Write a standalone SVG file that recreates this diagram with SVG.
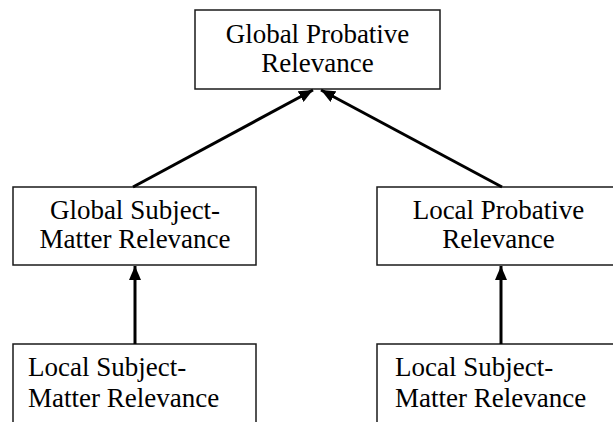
<svg xmlns="http://www.w3.org/2000/svg" width="613" height="422" viewBox="0 0 613 422">
<style>
.box{fill:#fff;stroke:#1a1a1a;stroke-width:1.5}
.t{font-family:"Liberation Serif","Times New Roman",serif;font-size:27px;fill:#000}
.c{text-anchor:middle}
.edge{stroke:#000;stroke-width:3;fill:none}
</style>
<defs>
<marker id="ah" markerUnits="userSpaceOnUse" markerWidth="16" markerHeight="12" refX="14" refY="6" orient="auto">
<path d="M0,0 L14,6 L0,12 Z" fill="#000"/>
</marker>
</defs>
<rect width="613" height="422" fill="#fff"/>
<g id="n-global-probative">
<rect class="box" x="195" y="10" width="245" height="79"/>
<text class="t c" x="317.5" y="43">Global Probative</text>
<text class="t c" x="317.5" y="72">Relevance</text>
</g>
<g id="n-global-subject">
<rect class="box" x="13" y="187" width="243" height="78"/>
<text class="t c" x="135" y="219">Global Subject-</text>
<text class="t c" x="135" y="248">Matter Relevance</text>
</g>
<g id="n-local-probative">
<rect class="box" x="377" y="187" width="243" height="78"/>
<text class="t c" x="498.5" y="219">Local Probative</text>
<text class="t c" x="498.5" y="248">Relevance</text>
</g>
<g id="n-local-subject-left">
<rect class="box" x="13" y="344" width="243" height="90"/>
<text class="t" x="28" y="376">Local Subject-</text>
<text class="t" x="28" y="407">Matter Relevance</text>
</g>
<g id="n-local-subject-right">
<rect class="box" x="377" y="344" width="243" height="90"/>
<text class="t" x="395" y="376">Local Subject-</text>
<text class="t" x="395" y="407">Matter Relevance</text>
</g>
<g id="connectors">
<line class="edge" x1="133" y1="187" x2="313" y2="90" marker-end="url(#ah)"/>
<line class="edge" x1="502" y1="187" x2="321" y2="90" marker-end="url(#ah)"/>
<line class="edge" x1="135" y1="344" x2="135" y2="266" marker-end="url(#ah)"/>
<line class="edge" x1="501" y1="344" x2="501" y2="266" marker-end="url(#ah)"/>
</g>
</svg>
